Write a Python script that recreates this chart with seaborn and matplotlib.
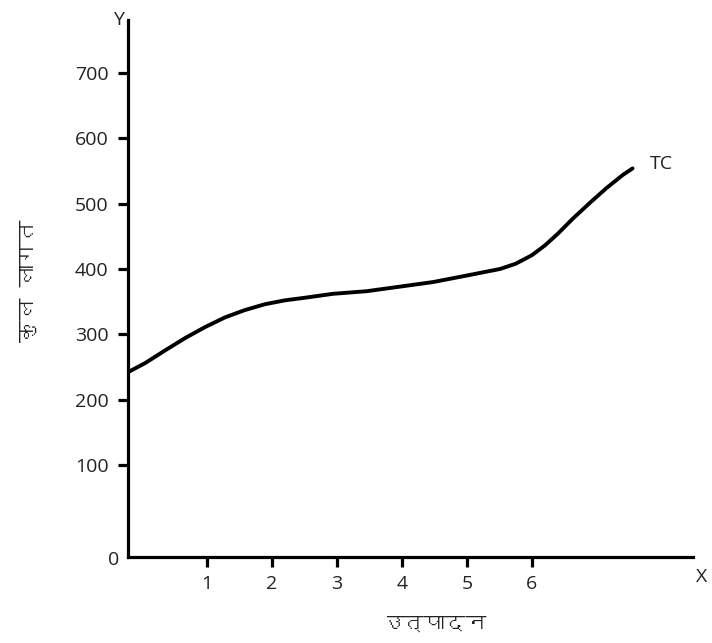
import numpy as np
import matplotlib
matplotlib.use("Agg")
import matplotlib.pyplot as plt
import seaborn as sns
from matplotlib import font_manager
from matplotlib.ft2font import FT2Font

# output (x) and total cost (TC)
output_units = [-0.215, 0.05, 0.35, 0.66, 0.97, 1.28, 1.58, 1.89, 2.2, 2.51, 2.94,
                3.46, 3.97, 4.48, 5.0, 5.51, 5.75, 6.0, 6.2, 6.4, 6.63, 6.89,
                7.15, 7.4, 7.55]
total_cost = [242, 256, 275, 294, 311, 326, 337, 346, 352, 356, 362,
              366, 373, 380, 390, 400, 408, 421, 436, 454, 477, 501,
              524, 544, 554]

x_ticks = [1, 2, 3, 4, 5, 6]
y_ticks = [100, 200, 300, 400, 500, 600, 700]

y_label = "कुल लागत"
x_label = "उत्पादन"
curve_label = "TC"


def find_devanagari_family():
    # look for any installed font that has Devanagari glyphs
    for f in font_manager.fontManager.ttflist:
        try:
            ft = FT2Font(f.fname)
            if ft.get_char_index(ord("क")) and ft.get_char_index(ord("त")):
                return f.name
        except Exception:
            continue
    return "DejaVu Sans"


sns.set_style("ticks")
plt.rcParams["font.family"] = ["Open Sans", "DejaVu Sans"]
deva = find_devanagari_family()
text_color = "#222222"

fig = plt.figure(figsize=(7.12, 6.43), dpi=100)
ax = fig.add_axes([0.1798, 0.1337, 0.7935, 0.835])

sns.lineplot(x=output_units, y=total_cost, color="black", linewidth=2.8, ax=ax,
             sort=False, solid_capstyle="round", solid_joinstyle="round")

ax.set_xlim(-0.215, 8.48)
ax.set_ylim(-41, 781)
ax.set_xticks(x_ticks)
ax.set_yticks(y_ticks)
ax.tick_params(axis="both", length=7, width=2.3, color="black", labelsize=14,
               labelcolor=text_color)
ax.tick_params(axis="y", pad=7)
ax.tick_params(axis="x", pad=6)

for side in ["top", "right"]:
    ax.spines[side].set_visible(False)
for side in ["left", "bottom"]:
    ax.spines[side].set_linewidth(2.3)
    ax.spines[side].set_color("black")

# corner and axis-end labels
ax.text(-0.016, -0.006, "0", transform=ax.transAxes, ha="right", va="center",
        fontsize=14, color=text_color)
ax.text(-0.008, 1.0, "Y", transform=ax.transAxes, ha="right", va="center",
        fontsize=14, color=text_color)
ax.text(1.005, -0.02, "X", transform=ax.transAxes, ha="left", va="top",
        fontsize=14, color=text_color)
ax.text(output_units[-1] + 0.26, total_cost[-1] + 6, curve_label, ha="left",
        va="center", fontsize=14, color=text_color)

ax.set_xlabel(x_label, family=[deva, "DejaVu Sans"], fontsize=15, color=text_color)
ax.set_ylabel(y_label, family=[deva, "DejaVu Sans"], fontsize=16, color=text_color)
ax.yaxis.set_label_coords(-0.16, 0.514)
ax.xaxis.set_label_coords(0.543, -0.108)

fig.savefig("out.png", dpi=100)
